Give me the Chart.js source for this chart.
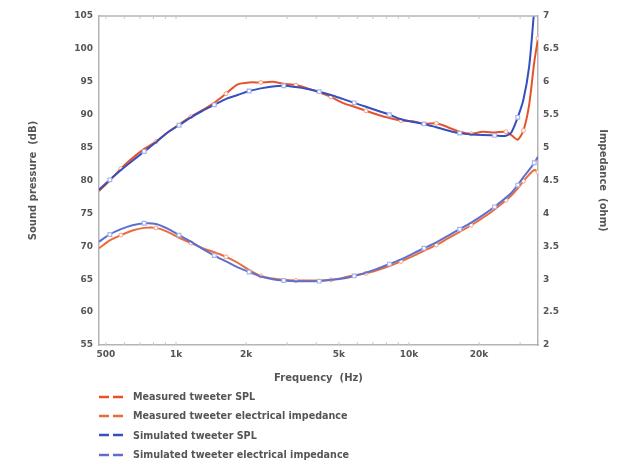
<!DOCTYPE html>
<html>
<head>
<meta charset="utf-8">
<script src="https://cdn.jsdelivr.net/npm/chart.js@4.4.1/dist/chart.umd.min.js"></script>
<style>
  html, body { margin: 0; padding: 0; background: #ffffff; }
  #wrap { position: relative; width: 635px; height: 464px; overflow: hidden; }
  #chartBox { position: absolute; left: 0; top: 0; width: 635px; height: 390px; }
  #legend { position: absolute; left: 99px; top: 387px; font-family: "DejaVu Sans", sans-serif; font-size: 9.6px; font-weight: bold; color: #555; }
  .li { display: flex; align-items: center; height: 19.3px; }
  .li svg { margin-right: 7px; }
</style>
</head>
<body>
<div id="wrap">
  <div id="chartBox"><canvas id="c" width="635" height="390"></canvas></div>
  <div id="legend"></div>
</div>
<script>
// ---- data ----
const freqHz = [467, 520, 580, 650, 730, 820, 920, 1030, 1160, 1300, 1460, 1640, 1840, 2060, 2310, 2600, 2900, 3270, 3670, 4120, 4620, 5190, 5820, 6540, 7340, 8240, 9250, 10400, 11600, 13100, 14700, 16500, 18500, 20700, 23300, 26100, 27500, 29300, 31000, 32800, 34500, 35800];

const measuredSpl = [78.4, 80.0, 81.8, 83.4, 84.8, 85.9, 87.3, 88.5, 89.7, 90.7, 91.8, 93.2, 94.6, 94.9, 94.9, 95.0, 94.7, 94.5, 94.0, 93.4, 92.7, 91.8, 91.2, 90.6, 90.0, 89.5, 89.1, 89.0, 88.6, 88.7, 88.1, 87.4, 87.1, 87.4, 87.3, 87.4, 86.9, 86.2, 87.6, 91.5, 98.0, 101.6];

const simulatedSpl = [78.6, 80.1, 81.6, 83.0, 84.4, 85.8, 87.3, 88.4, 89.6, 90.6, 91.5, 92.4, 93.0, 93.6, 94.0, 94.3, 94.4, 94.2, 93.9, 93.5, 93.0, 92.4, 91.8, 91.2, 90.6, 90.0, 89.3, 88.9, 88.6, 88.1, 87.6, 87.2, 87.0, 86.9, 86.85, 86.8, 87.3, 89.6, 92.3, 97.3, 106, 112];

const measuredImp = [3.47, 3.59, 3.67, 3.74, 3.78, 3.78, 3.72, 3.63, 3.55, 3.47, 3.41, 3.34, 3.25, 3.14, 3.05, 3.01, 2.99, 2.98, 2.98, 2.98, 2.99, 3.02, 3.06, 3.09, 3.14, 3.20, 3.27, 3.35, 3.43, 3.52, 3.62, 3.72, 3.82, 3.93, 4.06, 4.20, 4.27, 4.38, 4.49, 4.59, 4.66, 4.63];

const simulatedImp = [3.57, 3.68, 3.76, 3.82, 3.85, 3.84, 3.77, 3.67, 3.57, 3.46, 3.36, 3.27, 3.18, 3.11, 3.04, 3.00, 2.98, 2.97, 2.97, 2.97, 2.99, 3.01, 3.05, 3.10, 3.16, 3.23, 3.30, 3.39, 3.47, 3.56, 3.66, 3.76, 3.86, 3.97, 4.10, 4.24, 4.31, 4.43, 4.55, 4.66, 4.77, 4.86];

const freqTicks = [500, 1000, 2000, 5000, 10000, 20000];
const minorFreqTicks = [600, 700, 800, 900, 3000, 4000, 6000, 7000, 8000, 9000, 30000];
const seriesLabels = ["Measured tweeter SPL", "Measured tweeter electrical impedance", "Simulated tweeter SPL", "Simulated tweeter electrical impedance"];

// ---- styling ----
const ORANGE = "#e6522a";
const ORANGE2 = "#ec6a3c";
const BLUE = "#3450c0";
const BLUE2 = "#5e70cf";
const AXIS = "#b4b4b4";
const TEXT = "#555555";
const FONT = { family: "DejaVu Sans", size: 9, weight: "bold" };
const TFONT = { family: "DejaVu Sans", size: 10, weight: "bold" };

const toXY = (vals) => freqHz.map((f, i) => ({ x: f, y: vals[i] }));
const marker = (step, off, r) => (ctx) => (ctx.dataIndex % step === off ? r : 0);

const framePlugin = {
  id: "frame",
  afterDraw(chart) {
    const { ctx, chartArea: a, scales } = chart;
    ctx.save();
    ctx.strokeStyle = AXIS;
    ctx.lineWidth = 1.5;
    ctx.beginPath();
    ctx.moveTo(a.left, a.top); ctx.lineTo(a.right, a.top);
    ctx.stroke();
    ctx.lineWidth = 1;
    ctx.strokeStyle = "#c8c8c8";
    const all = freqTicks.concat(minorFreqTicks);
    all.forEach(v => {
      const px = scales.x.getPixelForValue(v);
      ctx.beginPath();
      ctx.moveTo(px, a.top); ctx.lineTo(px, a.top + 3);
      ctx.moveTo(px, a.bottom); ctx.lineTo(px, a.bottom - 3);
      ctx.stroke();
    });
    ctx.restore();
  }
};

const chart = new Chart(document.getElementById("c"), {
  type: "line",
  data: {
    datasets: [
      { label: seriesLabels[2], data: toXY(simulatedSpl), yAxisID: "y", borderColor: BLUE, borderWidth: 2,
        pointRadius: marker(3, 1, 2.6), pointStyle: "rect", pointBackgroundColor: "#fff", pointBorderColor: "#a9b4e8", pointBorderWidth: 1.2, tension: 0.3, order: 0 },
      { label: seriesLabels[3], data: toXY(simulatedImp), yAxisID: "y2", borderColor: BLUE2, borderWidth: 2,
        pointRadius: marker(3, 1, 2.6), pointStyle: "rect", pointBackgroundColor: "#fff", pointBorderColor: "#a9b4e8", pointBorderWidth: 1.2, tension: 0.3, order: 1 },
      { label: seriesLabels[0], data: toXY(measuredSpl), yAxisID: "y", borderColor: ORANGE, borderWidth: 2,
        pointRadius: marker(3, 2, 2), pointBackgroundColor: "#fff", pointBorderColor: "#f3a07c", pointBorderWidth: 1, tension: 0.25, order: 2 },
      { label: seriesLabels[1], data: toXY(measuredImp), yAxisID: "y2", borderColor: ORANGE2, borderWidth: 2,
        pointRadius: marker(3, 2, 2), pointBackgroundColor: "#fff", pointBorderColor: "#f3a07c", pointBorderWidth: 1, tension: 0.3, order: 3 }
    ]
  },
  options: {
    responsive: false,
    animation: false,
    layout: { padding: { top: 16, left: 0, right: 0, bottom: 0 } },
    plugins: { legend: { display: false }, tooltip: { enabled: false } },
    scales: {
      x: {
        type: "logarithmic", position: "bottom", min: 467, max: 35800,
        afterBuildTicks: (s) => { s.ticks = freqTicks.map(v => ({ value: v })); },
        afterFit: (s) => { s.height = 45; },
        grid: { display: false, drawTicks: false },
        border: { display: true, color: AXIS, width: 1.5 },
        ticks: { color: TEXT, font: FONT, padding: 4, maxRotation: 0, autoSkip: false,
          callback: (v) => (v >= 1000 ? (v / 1000) + "k" : String(v)) },
        title: { display: true, text: "Frequency  (Hz)", color: TEXT, font: TFONT, padding: { top: 0, bottom: 6 } }
      },
      y: {
        position: "left", min: 55, max: 105,
        afterFit: (s) => { s.width = 99; },
        grid: { display: false, drawTicks: false },
        border: { display: true, color: AXIS, width: 1.5 },
        ticks: { stepSize: 5, color: TEXT, font: FONT, padding: 6 },
        title: { display: true, text: "Sound pressure  (dB)", color: TEXT, font: TFONT, padding: { top: 27, bottom: 0 } }
      },
      y2: {
        position: "right", min: 2, max: 7,
        afterFit: (s) => { s.width = 97; },
        grid: { display: false, drawTicks: false },
        border: { display: true, color: AXIS, width: 1.5 },
        ticks: { stepSize: 0.5, color: TEXT, font: FONT, padding: 5, callback: (v) => String(v) },
        title: { display: true, text: "Impedance  (ohm)", color: TEXT, font: TFONT, padding: { top: 26, bottom: 0 } }
      }
    }
  },
  plugins: [framePlugin]
});

// ---- HTML legend built from the datasets, in the reference order ----
const legendOrder = [2, 3, 0, 1];
const legendEl = document.getElementById("legend");
legendOrder.forEach(i => {
  const ds = chart.data.datasets[i];
  const row = document.createElement("div");
  row.className = "li";
  row.innerHTML = '<svg width="27" height="4"><line x1="0" y1="2" x2="27" y2="2" stroke="' + ds.borderColor +
    '" stroke-width="2.5" stroke-dasharray="10,4"/></svg><span>' + ds.label + '</span>';
  legendEl.appendChild(row);
});
</script>
</body>
</html>
